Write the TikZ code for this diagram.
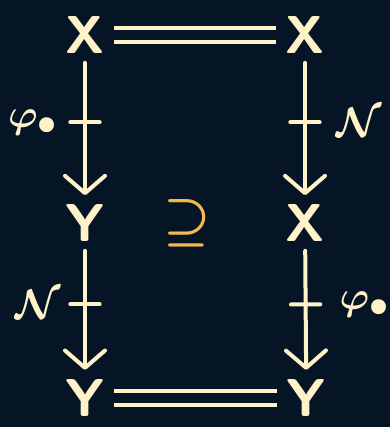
\documentclass[tikz,border=0pt]{standalone}
\usepackage{amsmath}
\usepackage{amssymb}
\usepackage{graphicx}
\usepackage{xcolor}
\usepackage{tikz}
\usetikzlibrary{arrows.meta,positioning,decorations.markings}
\definecolor{boardnavy}{RGB}{6,21,37}
\definecolor{chalkcream}{RGB}{255,241,200}
\definecolor{chalkorange}{RGB}{246,186,76}
\newcommand{\bigmath}[2]{\scalebox{#1}{$#2$}}

\begin{document}
\begin{tikzpicture}[
  x=0.75pt,y=0.75pt,on grid,
  obj/.style={text=chalkcream,font=\fontsize{40}{44}\selectfont\sffamily\bfseries,inner sep=4pt,outer sep=3pt},
  lbl/.style={text=chalkcream,font=\Huge\boldmath,inner sep=2pt},
  incl/.style={text=chalkorange,font=\Huge\boldmath},
  arrow/.style={-{Straight Barb[length=13pt,width=30pt,round]},draw=chalkcream,line width=3pt,line cap=round},
  pro/.style={postaction={decorate},decoration={markings,
              mark=at position 0.45 with {\draw[-,chalkcream,line width=3pt,line cap=round] (0,-11pt) -- (0,11pt);}}},
  eq/.style={draw=chalkcream,double=boardnavy,double distance=7.5pt,line width=3pt}
]
\useasboundingbox (0,0) rectangle (390,-427);
\fill[boardnavy] (0,0) rectangle (390,-427);
\node[obj] (xtl) at (85,-35) {X};
\node[obj,right=165pt of xtl] (xtr) {X};
\node[obj,below=141pt of xtl] (ymid) {Y};
\node[obj,right=165pt of ymid] (xmid) {X};
\node[obj,below=131pt of ymid] (ybl) {Y};
\node[obj,right=166pt of ybl] (ybr) {Y};
\node[incl,right=77pt of ymid] (sub) {\bigmath{1.6}{\supseteq}};
\draw[eq] (xtl) -- (xtr);
\draw[eq] (ybl) -- (ybr);
\draw[arrow,pro] (xtl) -- node[lbl,pos=0.45,left=17pt] {\bigmath{1.2}{\varphi_\bullet}} (ymid);
\draw[arrow,pro] (xtr) -- node[lbl,pos=0.45,right=20pt] {\bigmath{1.25}{\mathcal{N}}} (xmid);
\draw[arrow,pro] (ymid) -- node[lbl,pos=0.45,left=15pt] {\bigmath{1.25}{\mathcal{N}}} (ybl);
\draw[arrow,pro] (xmid) -- node[lbl,pos=0.45,right=22pt] {\bigmath{1.2}{\varphi_\bullet}} (ybr);
\end{tikzpicture}
\end{document}
